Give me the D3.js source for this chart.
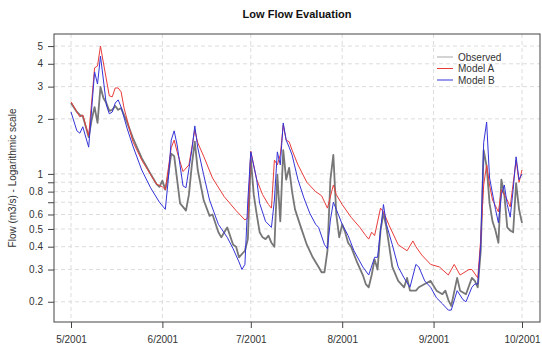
<!DOCTYPE html>
<html>
<head>
<meta charset="utf-8">
<script src="https://cdn.jsdelivr.net/npm/d3@7"></script>
<style>
  body { margin: 0; background: #fff; }
  svg { display: block; font-family: "Liberation Sans", Arial, sans-serif; }
</style>
</head>
<body>
<div id="chart"></div>
<script>
// days counted from 1 May 2001
const obsDay = [0,2,3,4,6,7,8,9,10,11,12,13,14,15,16,17,19,21,24,27,29,30,31,32,33,34,35,36,37,38,39,40,41,42,43,45,47,48,50,51,52,53,55,56,57,59,60,61,62,63,64,65,66,67,68,69,70,71,72,73,74,75,76,78,80,82,84,85,86,87,88,89,90,91,92,93,94,95,97,99,100,101,102,103,104,105,106,107,109,111,113,114,115,117,118,120,122,124,126,127,128,129,131,132,134,136,137,138,139,140,141,142,143,144,145,146,147,148,149,150,151,152,153];
const obsFlow = [2.44,2.18,2.10,2.07,1.59,1.97,2.32,1.90,2.99,2.60,2.44,2.21,2.24,2.35,2.24,2.29,1.92,1.57,1.22,1.0,0.88,0.85,0.92,0.82,0.99,1.29,1.25,0.93,0.69,0.66,0.63,0.77,1.12,1.50,1.05,0.72,0.59,0.60,0.48,0.45,0.48,0.51,0.41,0.40,0.35,0.38,0.44,1.22,0.77,0.60,0.48,0.45,0.44,0.46,0.42,0.40,0.99,0.55,1.35,0.93,1.08,0.80,0.64,0.51,0.41,0.35,0.31,0.29,0.29,0.38,0.93,1.27,0.60,0.45,0.53,0.48,0.42,0.40,0.33,0.28,0.25,0.24,0.28,0.34,0.30,0.49,0.61,0.51,0.31,0.26,0.24,0.27,0.23,0.23,0.24,0.25,0.26,0.23,0.22,0.23,0.205,0.19,0.27,0.23,0.22,0.27,0.26,0.24,0.38,1.35,1.10,0.69,0.55,0.49,0.42,0.93,0.77,0.51,0.49,0.48,0.89,0.64,0.54];

const modelADay = [0,2,3,4,6,8,9,10,11,13,14,15,16,17,18,21,24,27,29,31,32,34,35,36,38,40,42,43,45,48,52,56,59,60,61,63,65,67,68,69,70,71,72,73,74,75,77,80,83,85,87,89,90,92,95,98,100,101,102,103,105,106,108,111,114,116,117,119,122,125,128,130,132,135,136,138,139,140,141,142,143,145,146,148,149,151,152,153];
const modelAFlow = [2.48,2.18,2.05,2.10,1.61,3.80,3.89,5.0,4.04,2.67,2.64,2.95,2.95,2.81,2.29,1.50,1.19,0.99,0.88,0.85,0.82,1.39,1.53,1.32,1.03,1.12,1.74,1.48,1.25,0.95,0.75,0.63,0.56,0.575,1.33,0.93,0.77,0.68,0.65,1.19,1.12,1.27,1.85,1.53,1.50,1.35,1.12,0.90,0.80,0.76,0.65,0.87,0.77,0.68,0.58,0.51,0.46,0.44,0.48,0.46,0.65,0.62,0.52,0.41,0.38,0.43,0.40,0.36,0.32,0.31,0.28,0.32,0.28,0.30,0.30,0.27,0.44,0.87,1.12,0.87,0.72,0.62,0.82,0.72,0.66,1.19,0.90,1.05];

const modelBDay = [0,2,3,4,6,8,9,10,11,12,13,14,15,16,17,19,21,24,27,30,32,33,34,35,36,38,39,41,42,43,45,47,50,53,55,57,58,59,60,61,63,64,66,68,69,70,71,72,73,74,75,77,79,81,83,84,86,87,88,89,90,92,94,96,99,101,103,104,105,106,107,109,111,113,115,117,118,120,122,124,126,128,129,131,133,134,136,137,138,139,140,141,142,144,145,146,147,148,149,150,151,152,153];
const modelBFlow = [2.18,1.72,1.67,1.81,1.40,3.61,3.10,4.41,3.26,2.38,2.13,2.18,2.44,2.54,2.32,1.78,1.42,1.05,0.84,0.70,0.64,0.93,1.53,1.72,1.44,0.86,0.84,1.35,1.83,1.39,0.99,0.72,0.53,0.45,0.39,0.33,0.30,0.32,0.72,1.32,0.93,0.69,0.55,0.51,0.72,1.32,1.12,1.90,1.53,1.40,1.27,0.93,0.74,0.61,0.53,0.51,0.41,0.39,0.56,0.70,0.64,0.53,0.46,0.38,0.31,0.28,0.35,0.35,0.49,0.68,0.53,0.41,0.31,0.27,0.24,0.32,0.31,0.26,0.24,0.21,0.195,0.18,0.18,0.23,0.205,0.20,0.24,0.25,0.25,0.41,1.48,1.92,0.95,0.64,0.54,0.77,0.87,0.68,0.58,0.82,1.24,0.93,1.0];

const yTicks = [0.2,0.3,0.4,0.5,0.6,0.7,0.8,0.9,1,2,3,4,5];
const yLabels = ["0.2","0.3","0.4","0.5","0.6","","0.8","","1","2","3","4","5"];
const seriesNames = ["Observed", "Model A", "Model B"];
const title = "Low Flow Evaluation";
const yTitle = "Flow (m3/s) - Logarithmic scale";

const W = 542, H = 345;
const box = { left: 54, top: 34, right: 540, bottom: 322 };

const day0 = Date.UTC(2001, 4, 1);
const toDate = d => new Date(day0 + d * 864e5);

const x = d3.scaleUtc()
  .domain([toDate(0), new Date(Date.UTC(2001, 9, 1))])
  .range([71, 522]);
const y = d3.scaleLog()
  .domain([0.155, 5.82])
  .range([box.bottom, box.top]);

const svg = d3.select('#chart').append('svg')
  .attr('width', W).attr('height', H);

// grid
const months = d3.utcMonth.range(toDate(0), new Date(Date.UTC(2001, 9, 2)));
svg.append('g').selectAll('line').data(months).join('line')
  .attr('x1', d => x(d)).attr('x2', d => x(d))
  .attr('y1', box.top).attr('y2', box.bottom)
  .attr('stroke', '#dcdcdc').attr('stroke-dasharray', '4,3');
svg.append('g').selectAll('line').data(yTicks).join('line')
  .attr('x1', box.left).attr('x2', box.right)
  .attr('y1', d => y(d)).attr('y2', d => y(d))
  .attr('stroke', '#dcdcdc').attr('stroke-dasharray', '4,3');

// lines
const series = [
  { day: obsDay, flow: obsFlow, color: '#777', width: 1.8 },
  { day: modelADay, flow: modelAFlow, color: '#e83c3a', width: 1 },
  { day: modelBDay, flow: modelBFlow, color: '#3434d8', width: 1 }
];
const line = d3.line().x(p => x(toDate(p[0]))).y(p => y(p[1]));
series.forEach(s => {
  svg.append('path')
    .datum(s.day.map((d, i) => [d, s.flow[i]]))
    .attr('fill', 'none')
    .attr('stroke', s.color)
    .attr('stroke-width', s.width)
    .attr('stroke-linejoin', 'round')
    .attr('d', line);
});

// frame
svg.append('rect')
  .attr('x', box.left).attr('y', box.top)
  .attr('width', box.right - box.left).attr('height', box.bottom - box.top)
  .attr('fill', 'none').attr('stroke', '#444').attr('stroke-width', 1);

// axes
const xAxis = svg.append('g')
  .attr('transform', `translate(0,${box.bottom})`)
  .call(d3.axisBottom(x).tickValues(months).tickFormat(d3.utcFormat('%-m/%Y')).tickSize(6).tickPadding(8));
const yAxis = svg.append('g')
  .attr('transform', `translate(${box.left},0)`)
  .call(d3.axisLeft(y).tickValues(yTicks).tickFormat((d, i) => yLabels[i]).tickSize(6).tickPadding(5));
[xAxis, yAxis].forEach(g => {
  g.select('.domain').remove();
  g.selectAll('line').attr('stroke', '#444');
  g.selectAll('text').attr('fill', '#333').attr('font-size', 10)
    .attr('font-family', '"Liberation Sans", Arial, sans-serif');
});

// titles
svg.append('text')
  .attr('x', (box.left + box.right) / 2).attr('y', 18)
  .attr('text-anchor', 'middle').attr('font-size', 11).attr('font-weight', 'bold')
  .attr('fill', '#111').text(title);
svg.append('text')
  .attr('transform', `translate(16,${(box.top + box.bottom) / 2}) rotate(-90)`)
  .attr('text-anchor', 'middle').attr('font-size', 10).attr('fill', '#333')
  .text(yTitle);

// legend
const legendColors = ['#a8a8a8', '#e83c3a', '#3434d8'];
const lg = svg.append('g').attr('transform', 'translate(437,57)');
seriesNames.forEach((n, i) => {
  lg.append('line')
    .attr('x1', 0).attr('x2', 16).attr('y1', i * 11.5).attr('y2', i * 11.5)
    .attr('stroke', legendColors[i]).attr('stroke-width', 1);
  lg.append('text')
    .attr('x', 21).attr('y', i * 11.5).attr('dy', '0.35em')
    .attr('font-size', 10).attr('fill', '#333').text(n);
});
</script>
</body>
</html>
